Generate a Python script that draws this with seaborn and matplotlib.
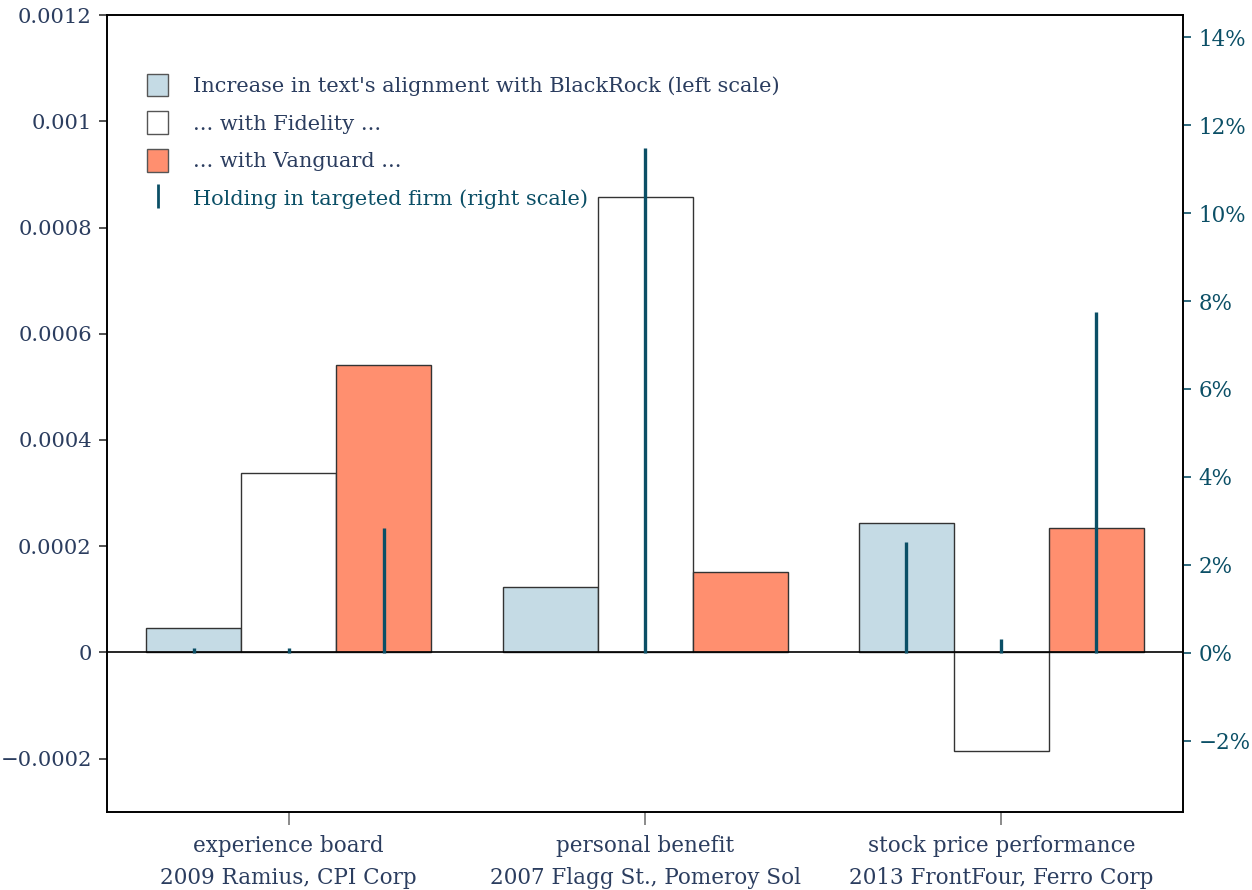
import pandas as pd
import numpy as np
import matplotlib
matplotlib.use("Agg")
import matplotlib.pyplot as plt
import seaborn as sns
from matplotlib.patches import Patch
from matplotlib.lines import Line2D
from matplotlib.ticker import FuncFormatter

cases = ['experience board\n2009 Ramius, CPI Corp',
         'personal benefit\n2007 Flagg St., Pomeroy Sol',
         'stock price performance\n2013 FrontFour, Ferro Corp']
funds = ['BlackRock', 'Fidelity', 'Vanguard']
blackrock = [0.0000453, 0.000123, 0.000243]
fidelity = [0.000338, 0.000857, -0.000185]
vanguard = [0.000542, 0.000151, 0.000234]
# holdings in targeted firm, percent
hold_blackrock = [0.11, 0.0, 2.52]
hold_fidelity = [0.11, 11.48, 0.32]
hold_vanguard = [2.84, 0.0, 7.75]

navy = '#2b3d5f'
teal = '#0b4f66'
colors = {'BlackRock': '#c5dbe5', 'Fidelity': '#ffffff', 'Vanguard': '#ff8f6f'}

df = pd.DataFrame({
    'case': cases * 3,
    'fund': [f for f in funds for _ in cases],
    'align': blackrock + fidelity + vanguard,
    'hold': hold_blackrock + hold_fidelity + hold_vanguard,
})

sns.set_style('white')
plt.rcParams['font.family'] = ['DejaVu Serif']

fig, ax = plt.subplots(figsize=(12.52, 8.9), dpi=100)
fig.subplots_adjust(left=0.0855, right=0.945, top=0.983, bottom=0.088)

sns.barplot(data=df, x='case', y='align', hue='fund', palette=colors,
            saturation=1, edgecolor='#333333', linewidth=1, ax=ax, legend=False)
ax.axhline(0, color='black', lw=1.2, zorder=3)
ax.set_ylim(-0.0003, 0.0012)
ax.set_xlim(-0.51, 2.51)
ax.set_yticks([-0.0002, 0, 0.0002, 0.0004, 0.0006, 0.0008, 0.001, 0.0012])
ax.set_yticklabels(['\u22120.0002', '0', '0.0002', '0.0004', '0.0006', '0.0008', '0.001', '0.0012'])
ax.set_xlabel('')
ax.set_ylabel('')
ax.tick_params(axis='y', left=True, length=6, width=1.2, color='#333333',
               labelsize=15.2, labelcolor=navy, pad=5)
ax.tick_params(axis='x', bottom=True, length=9, width=1.2, color='#777777',
               labelsize=15.5, labelcolor=navy, pad=8)
for t in ax.get_xticklabels():
    t.set_linespacing(1.6)
for s in ax.spines.values():
    s.set_color('black')
    s.set_linewidth(1.2)

# bar centres from the drawn patches, in hue order
centres = sorted([p.get_x() + p.get_width() / 2 for p in ax.patches])
ax2 = ax.twinx()
holds = []
for i in range(len(cases)):
    holds += [hold_blackrock[i], hold_fidelity[i], hold_vanguard[i]]
ax2.vlines(centres, 0, holds, color=teal, lw=2.4, zorder=4)
ax2.set_ylim(-3.61, 14.5)
ax2.set_yticks(range(-2, 15, 2))
ax2.yaxis.set_major_formatter(FuncFormatter(lambda v, p: f'{int(v)}%'.replace('-', '\u2212')))
ax2.tick_params(axis='y', right=True, length=6, width=1.2, color=teal,
                labelsize=15.5, labelcolor=teal, pad=5)
ax2.grid(False)
for s in ax2.spines.values():
    s.set_color('black')
    s.set_linewidth(1.2)

handles = [Patch(facecolor=colors[f], edgecolor='#555555', lw=1) for f in funds]
handles.append(Line2D([], [], color=teal, marker='|', markersize=17,
                      markeredgewidth=2, linestyle='none'))
labels = ["Increase in text's alignment with BlackRock (left scale)",
          '... with Fidelity ...', '... with Vanguard ...',
          'Holding in targeted firm (right scale)']
leg = ax2.legend(handles, labels, loc='upper left', bbox_to_anchor=(0.02, 0.95),
                 frameon=False, fontsize=15, handlelength=1.0, handleheight=1.3,
                 labelspacing=0.72, handletextpad=1.2)
for t, c in zip(leg.get_texts(), [navy, navy, navy, teal]):
    t.set_color(c)

fig.savefig('out.png', dpi=100)
